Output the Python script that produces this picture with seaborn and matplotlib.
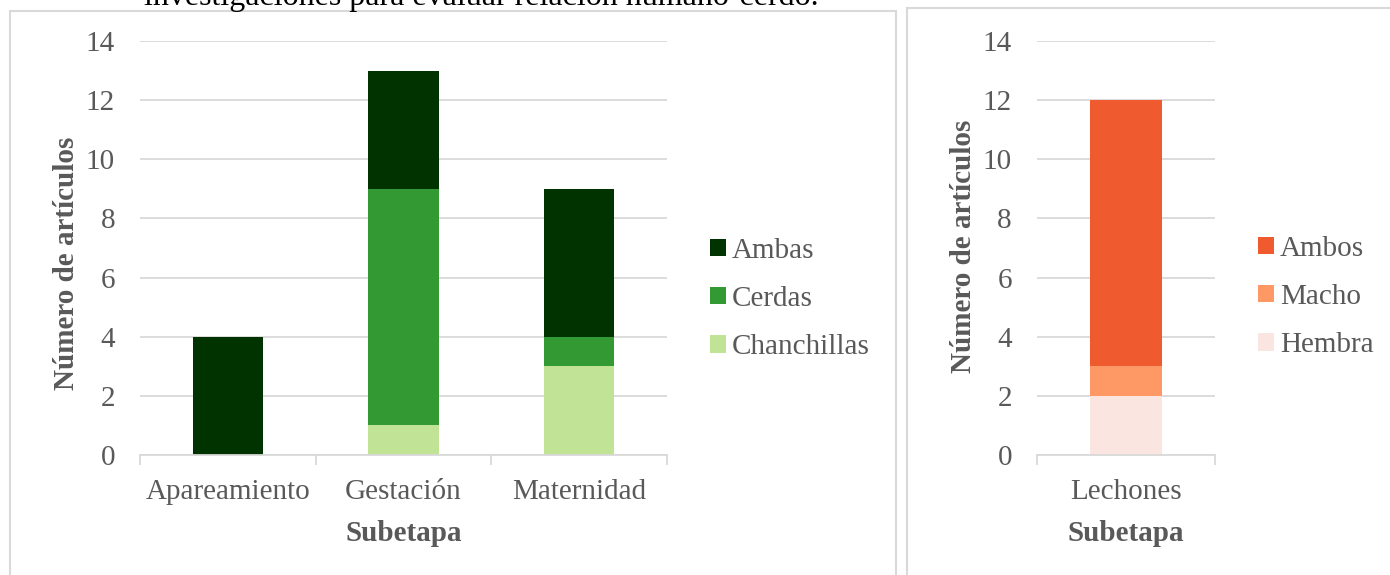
import matplotlib
matplotlib.use("Agg")
import matplotlib.pyplot as plt
import seaborn as sns
import numpy as np
from matplotlib.patches import Patch, Rectangle

sns.set_theme(style="white")
plt.rcParams['font.family'] = ['Liberation Serif', 'DejaVu Serif']

# ---- data ----
subetapas_left = ["Apareamiento", "Gestación", "Maternidad"]
chanchillas = [0, 1, 3]
cerdas = [0, 8, 1]
ambas = [4, 4, 5]
series_left = ["Ambas", "Cerdas", "Chanchillas"]
colors_left = ["#003300", "#339933", "#c0e395"]

subetapas_right = ["Lechones"]
hembra = [2]
macho = [1]
ambos = [9]
series_right = ["Ambos", "Macho", "Hembra"]
colors_right = ["#ef5b2f", "#fe9966", "#fbe5e0"]

yticks = [0, 2, 4, 6, 8, 10, 12, 14]
xlabel = "Subetapa"
ylabel = "Número de artículos"
caption = "investigaciones para evaluar relación humano-cerdo."

TXT = "#595959"
GRID = "#d9d9d9"
FS = 21
W, H = 1390, 575

fig = plt.figure(figsize=(W / 100, H / 100), dpi=100)
fig.patch.set_facecolor("white")

# panel borders
fig.patches.append(Rectangle((10 / W, -0.05), 886 / W, (H - 11) / H + 0.05,
                             transform=fig.transFigure, fill=False,
                             edgecolor=GRID, lw=1.5))
fig.patches.append(Rectangle((907 / W, -0.05), 500 / W, (H - 8) / H + 0.05,
                             transform=fig.transFigure, fill=False,
                             edgecolor=GRID, lw=1.5))

fig.text(481 / W, 1 - 5 / H, caption, ha="center", va="baseline",
         fontsize=23, color="black")


def stacked(ax, cats, layers, colors):
    # layers: bottom -> top ; draw cumulative totals, tallest first
    cum = np.cumsum(np.array(layers), axis=0)
    for i in range(len(layers) - 1, -1, -1):
        sns.barplot(x=cats, y=cum[i], color=colors[i], width=0.4,
                    saturation=1, ax=ax, linewidth=0, zorder=3)


def style(ax, ncat, ylab_pos):
    ax.set_ylim(0, 14)
    ax.set_xlim(-0.5, ncat - 0.5)
    ax.set_yticks(yticks)
    ax.yaxis.grid(True, color=GRID, lw=1.3, zorder=0)
    ax.set_axisbelow(True)
    for s in ["left", "top", "right"]:
        ax.spines[s].set_visible(False)
    ax.spines["bottom"].set_color(GRID)
    ax.spines["bottom"].set_linewidth(1.3)
    ax.spines["bottom"].set_zorder(4)
    ax.set_xticks(np.arange(-0.5, ncat, 1.0), minor=True)
    ax.tick_params(axis="x", which="minor", length=7, width=1.3,
                   color=GRID, direction="out", bottom=True)
    ax.tick_params(axis="x", which="major", length=0, pad=17,
                   labelsize=FS, labelcolor=TXT)
    ax.tick_params(axis="y", length=0, pad=18, labelsize=FS, labelcolor=TXT)
    ax.set_xlabel(xlabel, fontsize=FS, fontweight="bold", color=TXT,
                  labelpad=11)
    ax.set_ylabel(ylabel, fontsize=FS, fontweight="bold", color=TXT,
                  labelpad=4)
    ax.yaxis.label.set_y(ylab_pos)


axL = fig.add_axes([140 / W, 120 / H, 527 / W, 414 / H])
stacked(axL, subetapas_left, [chanchillas, cerdas, ambas], colors_left[::-1])
style(axL, len(subetapas_left), 0.464)

axR = fig.add_axes([1037 / W, 120 / H, 178 / W, 414 / H])
stacked(axR, subetapas_right, [hembra, macho, ambos], colors_right[::-1])
style(axR, len(subetapas_right), 0.505)

hL = [Patch(facecolor=c, edgecolor="none") for c in colors_left]
fig.legend(hL, series_left, loc="center left",
           bbox_to_anchor=(710 / W, 1 - 299 / H), frameon=False,
           fontsize=FS, labelcolor=TXT, handlelength=0.55, handleheight=0.55,
           handletextpad=0.2, labelspacing=0.76, borderaxespad=0,
           borderpad=0)

hR = [Patch(facecolor=c, edgecolor="none") for c in colors_right]
fig.legend(hR, series_right, loc="center left",
           bbox_to_anchor=(1258 / W, 1 - 297 / H), frameon=False,
           fontsize=FS, labelcolor=TXT, handlelength=0.55, handleheight=0.55,
           handletextpad=0.2, labelspacing=0.76, borderaxespad=0,
           borderpad=0)

fig.savefig("out.png", dpi=100, facecolor="white")
